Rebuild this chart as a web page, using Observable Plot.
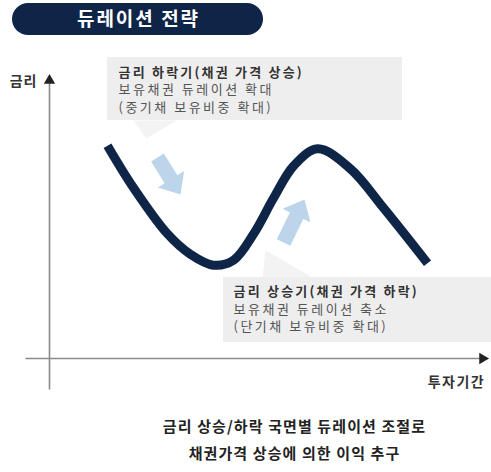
<!DOCTYPE html>
<html><head><meta charset="utf-8">
<script src="https://cdn.jsdelivr.net/npm/d3@7"></script>
<script src="https://cdn.jsdelivr.net/npm/@observablehq/plot@0.6"></script>
<style>body{margin:0;background:#fff;} svg{display:block;}</style>
</head><body><div id="chart"></div>
<script>
// ---- data ----
const title = "듀레이션 전략";
const yLabel = "금리";
const xLabel = "투자기간";
// interest-rate path over the investment period (abstract 0–100 units)
const curveT = [13.3, 19.3, 27.1, 32.3, 37.6, 42.2, 46.8, 51.4, 56.0, 61.5, 69.0, 76.6, 86.7];
const curveR = [73.9, 59.2, 43.2, 36.2, 32.4, 34.1, 43.2, 55.7, 66.9, 72.8, 65.9, 52.3, 33.1];
const fallLines = ["금리 하락기(채권 가격 상승)", "보유채권 듀레이션 확대", "(중기채 보유비중 확대)"];
const riseLines = ["금리 상승기(채권 가격 하락)", "보유채권 듀레이션 축소", "(단기채 보유비중 확대)"];
const captionLines = ["금리 상승/하락 국면별 듀레이션 조절로", "채권가격 상승에 의한 이익 추구"];

// ---- layout (pixels) ----
const X0 = 49, XS = 4.36, Y0 = 358, YS = 2.88;
const tx = px => (px - X0) / XS;
const ry = py => (Y0 - py) / YS;
const FONT = "'Noto Sans CJK KR', 'Noto Sans', sans-serif";
const navy = "#0f2548", arrowBlue = "#bcd5ea", boxGray = "#eeeeee";

function blockArrow(x0, y0, x1, y1, sw, hw, hl) {
  const dx = x1 - x0, dy = y1 - y0, len = Math.hypot(dx, dy);
  const ux = dx / len, uy = dy / len, nx = -uy, ny = ux;
  const bx = x1 - ux * hl, by = y1 - uy * hl;
  const pts = [
    [x0 + nx * sw / 2, y0 + ny * sw / 2],
    [bx + nx * sw / 2, by + ny * sw / 2],
    [bx + nx * hw / 2, by + ny * hw / 2],
    [x1, y1],
    [bx - nx * hw / 2, by - ny * hw / 2],
    [bx - nx * sw / 2, by - ny * sw / 2],
    [x0 - nx * sw / 2, y0 - ny * sw / 2],
    [x0 + nx * sw / 2, y0 + ny * sw / 2]
  ];
  return pts.map(([a, b]) => ({t: tx(a), r: ry(b)}));
}
const poly = pts => pts.map(([a, b]) => ({t: tx(a), r: ry(b)}));

const curve = curveT.map((t, i) => ({t, r: curveR[i]}));
const one = [0];

const chart = Plot.plot({
  width: 491, height: 472,
  marginTop: 0, marginRight: 0, marginBottom: 0, marginLeft: 0,
  x: {domain: [0, 100], range: [X0, 485], axis: null},
  y: {domain: [0, 100], range: [Y0, Y0 - 100 * YS], axis: null},
  style: {fontFamily: FONT, background: "#fff"},
  marks: [
    // title pill
    Plot.rect(one, {x1: tx(12), x2: tx(263), y1: ry(35), y2: ry(3), fill: navy, rx: 16}),
    Plot.text([title], {x: tx(138), y: ry(19.5), text: d => d, fill: "#fff", fontSize: 19, fontWeight: "bold"}),
    // callout boxes with tails
    Plot.line(poly([[133, 120], [176, 120], [146, 138], [133, 120]]), {x: "t", y: "r", fill: "#f3f3f3", stroke: "none"}),
    Plot.rect(one, {x1: tx(107), x2: tx(402), y1: ry(120), y2: ry(57), fill: boxGray}),
    Plot.line(poly([[265, 250], [262, 277], [312, 277], [265, 250]]), {x: "t", y: "r", fill: "#f3f3f3", stroke: "none"}),
    Plot.rect(one, {x1: tx(223), x2: tx(491), y1: ry(342), y2: ry(277), fill: boxGray}),
    // axes
    Plot.link(one, {x1: tx(25), y1: 0, x2: tx(480), y2: 0, stroke: "#8a8a8a", strokeWidth: 1.6}),
    Plot.dot(one, {x: tx(482), y: 0, symbol: "triangle", r: 4.2, rotate: 90, fill: "#222", stroke: "none"}),
    Plot.link(one, {x1: 0, y1: ry(389), x2: 0, y2: ry(82), stroke: "#8a8a8a", strokeWidth: 1.6}),
    Plot.dot(one, {x: 0, y: ry(80), symbol: "triangle", r: 4.2, fill: "#222", stroke: "none"}),
    Plot.text([yLabel], {x: tx(23), y: ry(81), text: d => d, fontSize: 14, fontWeight: "bold", fill: "#333"}),
    Plot.text([xLabel], {x: tx(456), y: ry(382), text: d => d, fontSize: 14, fontWeight: "bold", fill: "#333"}),
    // direction arrows
    Plot.line(blockArrow(157, 157, 180, 194, 15, 31, 18), {x: "t", y: "r", fill: arrowBlue, stroke: "none"}),
    Plot.line(blockArrow(283, 242, 304, 199, 15, 31, 18), {x: "t", y: "r", fill: arrowBlue, stroke: "none"}),
    // rate path
    Plot.line(curve, {x: "t", y: "r", curve: "catmull-rom", stroke: navy, strokeWidth: 9, strokeLinecap: "butt", strokeLinejoin: "round"}),
    // callout texts
    Plot.text(fallLines.slice(0, 1), {x: tx(118), y: ry(72), text: d => d, textAnchor: "start", fontSize: 13, fontWeight: "bold", fill: "#333"}),
    Plot.text(fallLines.slice(1), {x: tx(118), y: (d, i) => ry(89.5 + 17.5 * i), text: d => d, textAnchor: "start", fontSize: 13, fill: "#555"}),
    Plot.text(riseLines.slice(0, 1), {x: tx(233), y: ry(291.5), text: d => d, textAnchor: "start", fontSize: 13, fontWeight: "bold", fill: "#333"}),
    Plot.text(riseLines.slice(1), {x: tx(233), y: (d, i) => ry(309 + 17.5 * i), text: d => d, textAnchor: "start", fontSize: 13, fill: "#555"}),
    // caption
    Plot.text(captionLines, {x: tx(294), y: (d, i) => ry(427 + 27 * i), text: d => d, fontSize: 15, fontWeight: "bold", fill: "#222"})
  ]
});
// letter spacing to match the wider lettering of the reference
const spacingFor = s => {
  if (s === title) return 2;
  if (s === yLabel) return 1;
  if (s === xLabel) return 1.5;
  if (s === fallLines[0] || s === riseLines[0]) return 2.2;
  if (fallLines.includes(s) || riseLines.includes(s)) return 2.5;
  if (captionLines.includes(s)) return 1.1;
  return 0;
};
chart.querySelectorAll("text").forEach(el => {
  const ls = spacingFor(el.textContent);
  if (ls) { el.setAttribute("letter-spacing", ls); el.style.letterSpacing = ls + "px"; }
});
document.getElementById("chart").appendChild(chart);
</script>
</body></html>
